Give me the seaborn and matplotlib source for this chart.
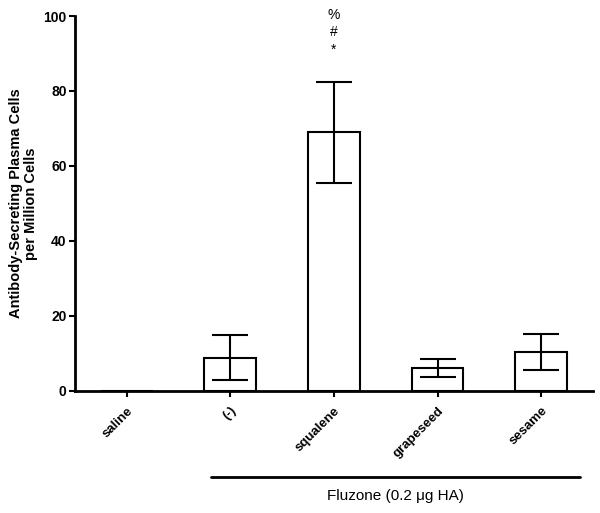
import matplotlib
matplotlib.use("Agg")
import matplotlib.pyplot as plt
import seaborn as sns
import numpy as np
import pandas as pd

groups = ["saline", "(-)", "squalene", "grapeseed", "sesame"]
means = [0.0, 8.8, 69.0, 6.0, 10.2]
err_low = [0.0, 2.8, 55.5, 3.7, 5.5]
err_high = [0.0, 14.8, 82.5, 8.4, 15.0]
sig_marks = ["*", "#", "%"]
sig_group = "squalene"
y_ticks = [0, 20, 40, 60, 80, 100]
ylabel = "Antibody-Secreting Plasma Cells\nper Million Cells"
group_label = "Fluzone (0.2 \u03bcg HA)"

sns.set_theme(style="ticks")
plt.rcParams["font.family"] = ["Liberation Sans", "DejaVu Sans"]
plt.rcParams.update({"text.color": "black", "axes.labelcolor": "black",
                     "xtick.color": "black", "ytick.color": "black",
                     "axes.edgecolor": "black"})

fig = plt.figure(figsize=(6.0, 5.13), dpi=100)
ax = fig.add_axes([0.125, 0.2384, 0.8633, 0.7304])

df = pd.DataFrame({"group": groups, "mean": means})
sns.barplot(data=df, x="group", y="mean", ax=ax, width=0.5, color="white",
            edgecolor="black", linewidth=1.5, errorbar=None)
for p in ax.patches:
    p.set_facecolor("white")

xs = np.arange(len(groups))
m = np.array(means)
lo = np.array(err_low)
hi = np.array(err_high)
sel = xs > 0
ax.errorbar(xs[sel], m[sel], yerr=[m[sel] - lo[sel], hi[sel] - m[sel]],
            fmt="none", ecolor="black", elinewidth=1.5, capsize=13, capthick=1.5)

ax.set_xlim(-0.5, 4.5)
ax.set_ylim(0, 100)
ax.set_yticks(y_ticks)
ax.set_yticklabels([str(t) for t in y_ticks], fontweight="bold", fontsize=10)
ax.set_xticks(xs)
ax.set_xticklabels(groups, rotation=45, ha="right", rotation_mode="anchor",
                   fontweight="bold", fontsize=9.5)
ax.set_xlabel("")
ax.set_ylabel(ylabel, fontweight="bold", fontsize=10.5, labelpad=4,
              linespacing=1.05)
ax.tick_params(axis="both", direction="out", length=4, width=1.5, pad=2,
               colors="black")
ax.tick_params(axis="x", pad=6)
sns.despine(ax=ax)
for s in ["left", "bottom"]:
    ax.spines[s].set_linewidth(2)
    ax.spines[s].set_color("black")

# significance marks above squalene
gi = groups.index(sig_group)
for k, mark in enumerate(sig_marks):
    ax.text(gi, 91 + k * 4.7, mark, ha="center", va="center", fontsize=10,
            clip_on=False)

# group line and label
ax.plot([0.815, 4.37], [-23.0, -23.0], color="black", lw=2, clip_on=False)
ax.text((0.815 + 4.37) / 2, -28.2, group_label, ha="center", va="center",
        fontsize=11, clip_on=False)

fig.savefig("out.png", dpi=100)
